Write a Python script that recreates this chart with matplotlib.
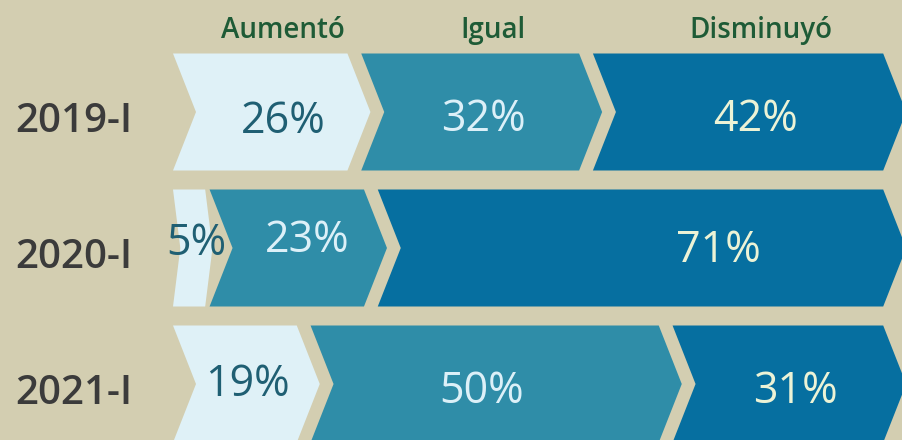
import matplotlib.pyplot as plt
from matplotlib.patches import Polygon

years = ['2019-I', '2020-I', '2021-I']
categories = ['Aumentó', 'Igual', 'Disminuyó']
aumento = [26, 5, 19]
igual = [32, 23, 50]
disminuyo = [42, 71, 31]

# small nudges of the value labels (x in %, y in row units), as in the original
label_dx = [[0, -1.4, -0.8], [0, -0.4, 9.0], [-1.5, -3.6, -0.8]]
label_dy = [[0.154, 0.14, 0.14], [0.055, 0.026, 0.10], [0.085, 0.143, 0.143]]

bg = '#d3ceb1'
seg_colors = ['#dff1f7', '#2f8da8', '#066fa0']
txt_colors = ['#1f5f73', '#dcf0f8', '#ecf3d6']

PX_PER_PCT = 7.24
X0_PX = 173
ROW_PX = 136
ROW0_PX = 112
W, H = 902, 440

fig = plt.figure(figsize=(W / 100, H / 100), dpi=100, facecolor=bg)
ax = fig.add_axes([0, 0, 1, 1])
ax.set_facecolor(bg)
ax.set_xlim(-X0_PX / PX_PER_PCT, (W - X0_PX) / PX_PER_PCT)
ax.set_ylim((H - ROW0_PX) / ROW_PX, -ROW0_PX / ROW_PX)
ax.axis('off')

half_h = 117 / ROW_PX / 2
depth_max = 23 / PX_PER_PCT

font = 'Open Sans'
row_centers = []
for r, year in enumerate(years):
    vals = [aumento[r], igual[r], disminuyo[r]]
    total = sum(vals)
    start = 0.0
    centers = []
    for i, v in enumerate(vals):
        slot = v / total * 100
        d = min(depth_max, 0.2 * slot)
        gap = 0.6 * d
        w = slot - gap
        y = r
        pts = [(start, y - half_h), (start + w, y - half_h), (start + w + d, y),
               (start + w, y + half_h), (start, y + half_h), (start + d, y)]
        ax.add_patch(Polygon(pts, closed=True, facecolor=seg_colors[i],
                             edgecolor='none'))
        cx = start + w / 2 + d
        centers.append(cx)
        ax.text(cx + label_dx[r][i], y + label_dy[r][i], f'{v}%',
                ha='center', va='baseline', fontsize=31, family=font,
                color=txt_colors[i])
        start += slot
    row_centers.append(centers)
    ax.text(-21.8, r + 0.145, year, ha='left', va='baseline', fontsize=29,
            family=font, fontweight='semibold', color='#3b3b3b')

for i, cat in enumerate(categories):
    ax.text(row_centers[0][i], -0.544, cat, ha='center', va='baseline',
            fontsize=20, family=font, fontweight='semibold', color='#1e5b36')

fig.savefig('out.png', dpi=100, facecolor=bg)
